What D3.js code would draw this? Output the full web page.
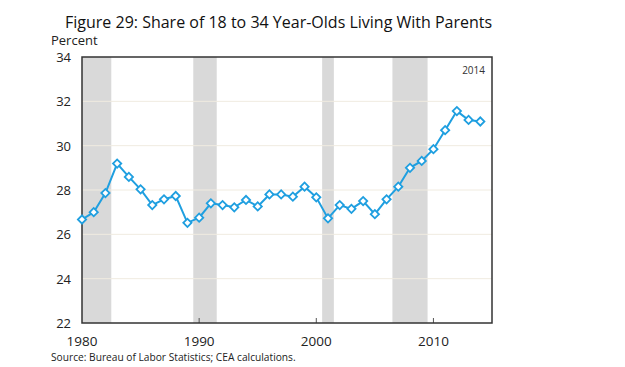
<!DOCTYPE html>
<html>
<head>
<meta charset="utf-8">
<script src="https://cdn.jsdelivr.net/npm/d3@7"></script>
<style>
  body { margin: 0; background: #fff; }
  svg { display: block; font-family: "Open Sans", "Noto Sans", sans-serif; }
</style>
</head>
<body>
<div id="chart"></div>
<script>
(function() {
    'use strict';

    // Data
    var years = [1980, 1981, 1982, 1983, 1984, 1985, 1986, 1987, 1988, 1989,
                 1990, 1991, 1992, 1993, 1994, 1995, 1996, 1997, 1998, 1999,
                 2000, 2001, 2002, 2003, 2004, 2005, 2006, 2007, 2008, 2009,
                 2010, 2011, 2012, 2013, 2014];
    var shares = [26.67, 27.0, 27.86, 29.19, 28.59, 28.03, 27.32, 27.58, 27.73, 26.52,
                  26.75, 27.4, 27.32, 27.22, 27.55, 27.26, 27.8, 27.8, 27.7, 28.15,
                  27.67, 26.72, 27.32, 27.15, 27.5, 26.91, 27.58, 28.15, 29.0, 29.31,
                  29.84, 30.7, 31.56, 31.16, 31.09];
    // recession shading (start, end) in years
    var recessionStart = [1980, 1989.5, 2000.5, 2006.5];
    var recessionEnd = [1982.5, 1991.5, 2001.5, 2009.5];
    var yTicks = [22, 24, 26, 28, 30, 32, 34];
    var xTicks = [1980, 1990, 2000, 2010];

    var width = 625, height = 367;
    var margin = { top: 57, right: 133, bottom: 44, left: 82 };
    var innerW = width - margin.left - margin.right;
    var innerH = height - margin.top - margin.bottom;

    var lineColor = '#1f9fe0';

    var svg = d3.select('#chart').append('svg')
        .attr('width', width)
        .attr('height', height);

    var x = d3.scaleLinear().domain([1980, 2015]).range([margin.left, margin.left + innerW]);
    var y = d3.scaleLinear().domain([22, 34]).range([margin.top + innerH, margin.top]);

    // recession bars
    svg.append('g').selectAll('rect')
        .data(recessionStart)
        .join('rect')
        .attr('x', function(d) { return x(d); })
        .attr('y', y(34))
        .attr('width', function(d, i) { return x(recessionEnd[i]) - x(d); })
        .attr('height', y(22) - y(34))
        .attr('fill', '#d9d9d9');

    // gridlines
    svg.append('g').selectAll('line')
        .data(yTicks.slice(1, -1))
        .join('line')
        .attr('x1', x(1980)).attr('x2', x(2015))
        .attr('y1', function(d) { return y(d); })
        .attr('y2', function(d) { return y(d); })
        .attr('stroke', '#f0ebe0')
        .attr('stroke-width', 1);

    // y tick labels
    svg.append('g').selectAll('text')
        .data(yTicks)
        .join('text')
        .attr('x', margin.left - 11)
        .attr('y', function(d) { return y(d) + 5; })
        .attr('text-anchor', 'end')
        .attr('font-size', 13)
        .attr('fill', '#222')
        .text(function(d) { return d; });

    // x axis ticks (inside) and labels
    var xAxis = svg.append('g');
    xAxis.selectAll('line')
        .data(xTicks.slice(1))
        .join('line')
        .attr('x1', function(d) { return x(d); })
        .attr('x2', function(d) { return x(d); })
        .attr('y1', y(22)).attr('y2', y(22) - 5)
        .attr('stroke', '#555')
        .attr('stroke-width', 1);
    xAxis.selectAll('text')
        .data(xTicks)
        .join('text')
        .attr('x', function(d) { return x(d); })
        .attr('y', y(22) + 23)
        .attr('text-anchor', 'middle')
        .attr('font-size', 13.5)
        .attr('fill', '#222')
        .text(function(d) { return d; });

    // frame
    svg.append('rect')
        .attr('x', x(1980)).attr('y', y(34))
        .attr('width', x(2015) - x(1980))
        .attr('height', y(22) - y(34))
        .attr('fill', 'none')
        .attr('stroke', '#333')
        .attr('stroke-width', 1.5);

    // line
    var pts = years.map(function(yr, i) { return [yr, shares[i]]; });
    svg.append('path')
        .datum(pts)
        .attr('fill', 'none')
        .attr('stroke', lineColor)
        .attr('stroke-width', 2)
        .attr('d', d3.line()
            .x(function(d) { return x(d[0]); })
            .y(function(d) { return y(d[1]); }));

    // diamond markers
    var diamond = d3.symbol().type(d3.symbolSquare).size(34);
    svg.append('g').selectAll('path')
        .data(pts)
        .join('path')
        .attr('d', diamond)
        .attr('transform', function(d) { return 'translate(' + x(d[0]) + ',' + y(d[1]) + ') rotate(45)'; })
        .attr('fill', '#fff')
        .attr('stroke', lineColor)
        .attr('stroke-width', 1.8);

    // annotation
    svg.append('text')
        .attr('x', x(2015) - 7)
        .attr('y', y(34) + 17)
        .attr('text-anchor', 'end')
        .attr('font-size', 10)
        .attr('fill', '#333')
        .text('2014');

    // titles
    svg.append('text')
        .attr('x', 65)
        .attr('y', 28)
        .attr('font-size', 16)
        .attr('fill', '#111')
        .text('Figure 29: Share of 18 to 34 Year-Olds Living With Parents');

    svg.append('text')
        .attr('x', 51)
        .attr('y', 45)
        .attr('font-size', 13)
        .attr('fill', '#222')
        .text('Percent');

    svg.append('text')
        .attr('x', 51)
        .attr('y', 361)
        .attr('font-size', 10.2)
        .attr('fill', '#222')
        .text('Source: Bureau of Labor Statistics; CEA calculations.');
})();
</script>
</body>
</html>
